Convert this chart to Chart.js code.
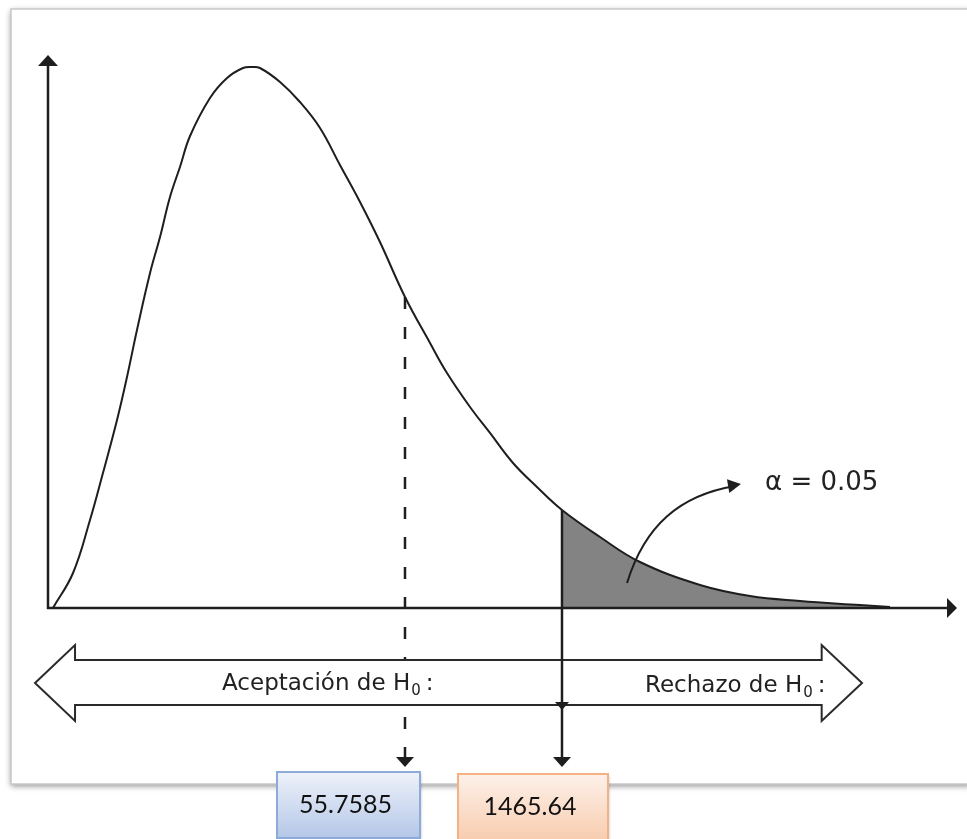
<!DOCTYPE html>
<html lang="es">
<head>
<meta charset="utf-8">
<title>Prueba de hipótesis</title>
<script src="https://cdn.jsdelivr.net/npm/chart.js@4.4.0/dist/chart.umd.min.js"></script>
<style>
  html, body { margin: 0; padding: 0; background: #fff; }
  canvas { display: block; }
</style>
</head>
<body>
<canvas id="grafico" width="967" height="839"></canvas>
<script>
// Curva de densidad (ejes sin escala, 0-100)
const curvaX = [0.55, 2.76, 4.63, 6.06, 7.61, 8.71, 9.81, 11.25, 12.35, 13.45, 14.55, 15.66,
  17.86, 19.74, 21.50, 22.49, 23.37, 25.58, 27.78, 29.99, 32.19, 34.40, 36.60, 39.36,
  42.12, 43.99, 46.53, 48.73, 51.27, 53.91, 56.67, 60.86, 65.27, 71.89, 77.40, 82.91,
  89.53, 92.83];
const curvaY = [0, 6.33, 15.91, 24.41, 34.00, 41.77, 50.27, 60.58, 67.09, 74.32, 79.75, 85.35,
  92.22, 95.84, 97.65, 97.83, 97.65, 95.12, 91.50, 86.80, 80.11, 73.42, 66.18, 56.24,
  47.92, 42.50, 36.35, 31.65, 26.22, 21.88, 17.72, 12.84, 8.32, 4.16, 2.17, 1.27,
  0.54, 0.18];

// Valores marcados
const xEstadistico = 39.36;   // línea punteada
const xCritico = 56.67;       // comienzo de la región de rechazo
const etiquetaEstadistico = '55.7585';
const etiquetaCritico = '1465.64';
const textoAlfa = 'α = 0.05';
const textoAceptacion = 'Aceptación de H';
const textoRechazo = 'Rechazo de H';

const puntos = curvaX.map((x, i) => ({ x, y: curvaY[i] }));
const cola = puntos.filter(p => p.x >= xCritico);

function yEnCurva(xv) {
  const i = curvaX.indexOf(xv);
  return curvaY[i];
}

function flecha(ctx, x, y, ang, largo, ancho) {
  ctx.save();
  ctx.translate(x, y);
  ctx.rotate(ang);
  ctx.beginPath();
  ctx.moveTo(0, 0);
  ctx.lineTo(-largo, -ancho / 2);
  ctx.lineTo(-largo, ancho / 2);
  ctx.closePath();
  ctx.fill();
  ctx.restore();
}

function caja(ctx, x, y, w, h, borde, arriba, abajo, texto) {
  ctx.save();
  ctx.shadowColor = 'rgba(0,0,0,0.35)';
  ctx.shadowBlur = 3;
  ctx.shadowOffsetX = 1;
  ctx.shadowOffsetY = 2;
  const g = ctx.createLinearGradient(0, y, 0, y + h);
  g.addColorStop(0, arriba);
  g.addColorStop(1, abajo);
  ctx.fillStyle = g;
  ctx.fillRect(x, y, w, h);
  ctx.restore();
  ctx.strokeStyle = borde;
  ctx.lineWidth = 2;
  ctx.strokeRect(x, y, w, h);
  ctx.fillStyle = '#111';
  ctx.font = '25px Lato';
  ctx.textAlign = 'center';
  ctx.textBaseline = 'alphabetic';
  ctx.fillText(texto, x + w / 2 - 3, y + 41);
}

const dibujo = {
  id: 'dibujo',
  beforeDraw(chart) {
    const { ctx, chartArea: a } = chart;
    // marco con sombra
    ctx.save();
    ctx.fillStyle = '#fff';
    ctx.shadowColor = 'rgba(0,0,0,0.45)';
    ctx.shadowBlur = 6;
    ctx.shadowOffsetY = 2;
    ctx.fillRect(a.left - 37, a.top - 46, 960, a.bottom - a.top + 222);
    ctx.restore();
    ctx.strokeStyle = '#c9c9c9';
    ctx.lineWidth = 1.5;
    ctx.strokeRect(a.left - 37, a.top - 46, 960, a.bottom - a.top + 222);
  },
  afterDatasetsDraw(chart) {
    const { ctx, chartArea: a, scales: { x, y } } = chart;
    const b = a.bottom;
    ctx.save();
    ctx.strokeStyle = '#1e1e1e';
    ctx.fillStyle = '#1e1e1e';

    // ejes
    ctx.lineWidth = 2.5;
    ctx.beginPath();
    ctx.moveTo(a.left, b + 1);
    ctx.lineTo(a.left, a.top + 8);
    ctx.moveTo(a.left - 1, b);
    ctx.lineTo(a.right - 6, b);
    ctx.stroke();
    flecha(ctx, a.left, a.top, -Math.PI / 2, 11, 20);
    flecha(ctx, a.right + 2, b, 0, 10, 20);

    // línea punteada del estadístico
    const xe = x.getPixelForValue(xEstadistico);
    ctx.lineWidth = 2.5;
    ctx.setLineDash([12, 18]);
    ctx.beginPath();
    ctx.moveTo(xe, y.getPixelForValue(yEnCurva(xEstadistico)));
    ctx.lineTo(xe, b + 149);
    ctx.stroke();
    ctx.setLineDash([]);
    flecha(ctx, xe, b + 159, Math.PI / 2, 10, 18);

    // doble flecha de aceptación / rechazo
    const xl = x.getPixelForValue(-1.43), xlb = x.getPixelForValue(2.98);
    const xrb = x.getPixelForValue(85.3), xr = x.getPixelForValue(89.75);
    const yT = b + 52, yB = b + 97, yM = b + 75, hT = b + 37, hB = b + 113;
    ctx.beginPath();
    ctx.moveTo(xl, yM);
    ctx.lineTo(xlb, hT);
    ctx.lineTo(xlb, yT);
    ctx.lineTo(xrb, yT);
    ctx.lineTo(xrb, hT);
    ctx.lineTo(xr, yM);
    ctx.lineTo(xrb, hB);
    ctx.lineTo(xrb, yB);
    ctx.lineTo(xlb, yB);
    ctx.lineTo(xlb, hB);
    ctx.closePath();
    ctx.fillStyle = '#fff';
    ctx.fill();
    ctx.lineWidth = 2;
    ctx.strokeStyle = '#2a2a2a';
    ctx.stroke();

    // textos de las regiones
    ctx.fillStyle = '#222';
    ctx.textBaseline = 'alphabetic';
    ctx.textAlign = 'left';
    const textoH = (t, x0, base) => {
      ctx.font = '23px "DejaVu Sans"';
      ctx.fillText(t, x0, base);
      let w = ctx.measureText(t).width;
      ctx.font = '15px "DejaVu Sans"';
      ctx.fillText('0', x0 + w + 1, base + 5);
      w += ctx.measureText('0').width + 6;
      ctx.font = '23px "DejaVu Sans"';
      ctx.fillText(':', x0 + w, base);
    };
    textoH(textoAceptacion, 222, b + 82);
    textoH(textoRechazo, 645, b + 84);

    // línea del valor crítico
    const xc = x.getPixelForValue(xCritico);
    ctx.strokeStyle = '#1e1e1e';
    ctx.fillStyle = '#1e1e1e';
    ctx.lineWidth = 2.5;
    ctx.beginPath();
    ctx.moveTo(xc, y.getPixelForValue(yEnCurva(xCritico)));
    ctx.lineTo(xc, b + 150);
    ctx.stroke();
    flecha(ctx, xc, b + 159, Math.PI / 2, 10, 18);
    flecha(ctx, xc, b + 102, Math.PI / 2, 8, 14);

    // flecha curva hacia alfa
    const p0 = [x.getPixelForValue(63.84), y.getPixelForValue(4.52)];
    const c1 = [x.getPixelForValue(65.8), y.getPixelForValue(15.0)];
    const c2 = [x.getPixelForValue(69.7), y.getPixelForValue(20.4)];
    const p1 = [x.getPixelForValue(75.74), y.getPixelForValue(22.06)];
    ctx.lineWidth = 2;
    ctx.beginPath();
    ctx.moveTo(p0[0], p0[1]);
    ctx.bezierCurveTo(c1[0], c1[1], c2[0], c2[1], p1[0], p1[1]);
    ctx.stroke();
    flecha(ctx, p1[0] + 6, p1[1] - 2, Math.atan2(p1[1] - c2[1], p1[0] - c2[0]), 13, 14);

    ctx.font = '26px "DejaVu Sans"';
    ctx.fillStyle = '#222';
    ctx.fillText(textoAlfa, x.getPixelForValue(79.05), y.getPixelForValue(21.3));

    // cajas con los valores
    caja(ctx, xe - 128, b + 164, 143, 66, '#8eaadb', '#eef2fa', '#b4c7e7', etiquetaEstadistico);
    caja(ctx, xc - 104, b + 166, 150, 68, '#f4b183', '#fdf1ea', '#f8cbad', etiquetaCritico);
    ctx.restore();
  }
};

new Chart(document.getElementById('grafico'), {
  type: 'line',
  data: {
    datasets: [
      {
        label: 'Densidad',
        data: puntos,
        borderColor: '#1e1e1e',
        borderWidth: 2,
        pointRadius: 0,
        tension: 0.4,
        fill: false
      },
      {
        label: 'Región de rechazo',
        data: cola,
        borderWidth: 0,
        borderColor: 'transparent',
        backgroundColor: '#838383',
        pointRadius: 0,
        tension: 0.4,
        fill: 'origin'
      }
    ]
  },
  options: {
    responsive: false,
    animation: false,
    layout: { padding: { left: 48, top: 55, right: 12, bottom: 231 } },
    plugins: { legend: { display: false }, tooltip: { enabled: false } },
    scales: {
      x: { type: 'linear', min: 0, max: 100, display: false },
      y: { min: 0, max: 100, display: false }
    }
  },
  plugins: [dibujo]
});
</script>
</body>
</html>
